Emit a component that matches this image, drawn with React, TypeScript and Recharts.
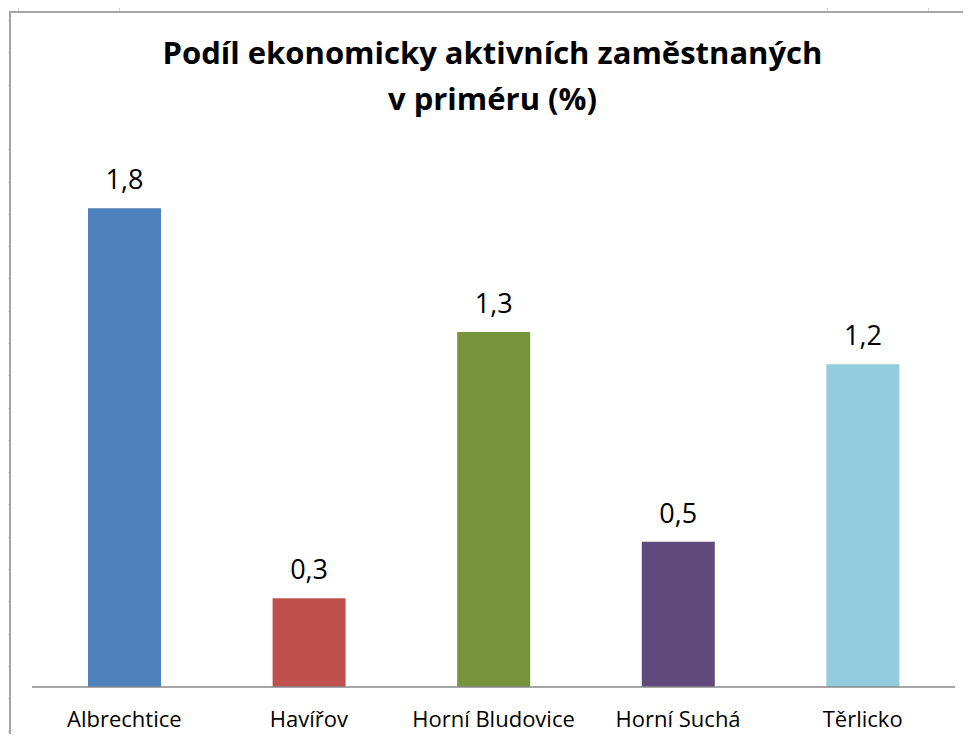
import React from 'react';
import { BarChart, Bar, XAxis, YAxis, Cell, LabelList } from 'recharts';

const categories = ['Albrechtice', 'Havířov', 'Horní Bludovice', 'Horní Suchá', 'Těrlicko'];
const shares = [1.78, 0.33, 1.32, 0.54, 1.2];
const colors = ['#4F81BD', '#C0504D', '#77933C', '#604A7B', '#93CDDD'];
const titleLines = ['Podíl ekonomicky aktivních zaměstnaných', 'v priméru (%)'];

const data = categories.map((name, i) => ({ name, value: shares[i] }));

const FONT = '"Open Sans", Lato, sans-serif';

const formatValue = (v: number) => v.toFixed(1).replace('.', ',');

// little spreadsheet grid stubs sticking out of the chart frame
const sideTicks = Array.from({ length: 23 }, (_, i) => 20 + i * 32.3).filter((_, i) => i !== 3);

const App: React.FC = () => {
    return (
        <div style={{ position: 'relative', width: 971, height: 742, margin: -8, background: '#fff', overflow: 'hidden' }}>
            <div
                style={{
                    position: 'absolute',
                    left: 9,
                    top: 11,
                    width: 980,
                    height: 760,
                    borderTop: '2px solid #a6a6a6',
                    borderLeft: '2px solid #a6a6a6',
                }}
            />
            {sideTicks.map((y) => (
                <div key={y} style={{ position: 'absolute', left: 5, top: Math.round(y), width: 4, height: 1, background: '#d0d0d0' }} />
            ))}
            {[18, 119, 827, 928].map((x) => (
                <div key={x} style={{ position: 'absolute', left: x, top: 7, width: 1, height: 4, background: '#d0d0d0' }} />
            ))}
            <div
                style={{
                    position: 'absolute',
                    left: 0,
                    top: 29,
                    width: 985,
                    textAlign: 'center',
                    fontFamily: FONT,
                    fontWeight: 700,
                    fontSize: 31,
                    lineHeight: '46px',
                    color: '#000',
                }}
            >
                {titleLines.map((t) => (
                    <div key={t}>{t}</div>
                ))}
            </div>
            <div style={{ position: 'absolute', left: 0, top: 0 }}>
                <BarChart width={971} height={742} data={data} margin={{ top: 149, right: 16, bottom: 0, left: 32 }}>
                    <XAxis
                        dataKey="name"
                        height={55}
                        interval={0}
                        tickLine={false}
                        tickMargin={18}
                        axisLine={{ stroke: '#888888', strokeWidth: 1.5 }}
                        tick={{ fontSize: 22, fill: '#000', fontFamily: FONT }}
                    />
                    <YAxis hide domain={[0, 2]} />
                    <Bar dataKey="value" barSize={73} isAnimationActive={false}>
                        {data.map((d, i) => (
                            <Cell key={d.name} fill={colors[i]} />
                        ))}
                        <LabelList
                            dataKey="value"
                            position="top"
                            offset={19}
                            formatter={(v: number) => formatValue(v)}
                            style={{ fontSize: 27, fill: '#000', fontFamily: FONT }}
                        />
                    </Bar>
                </BarChart>
            </div>
        </div>
    );
};

export default App;
